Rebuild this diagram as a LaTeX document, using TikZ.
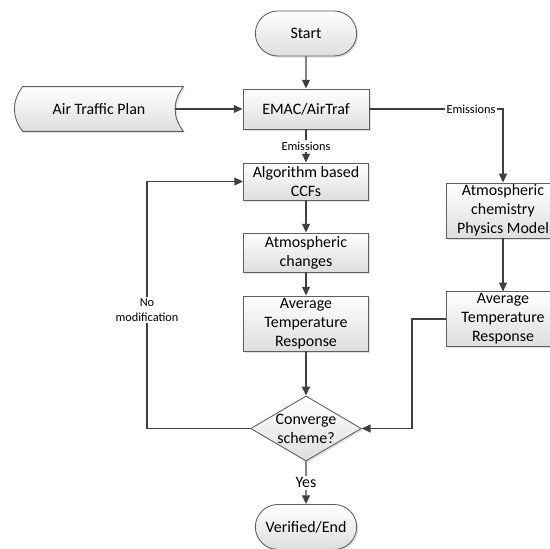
\documentclass[tikz,border=0pt]{standalone}
\usepackage{fontspec}
\setmainfont{Carlito}
\usepackage{tikz}
\usetikzlibrary{shapes,arrows}
\usetikzlibrary{arrows.meta}
\usetikzlibrary{shadows}
\usetikzlibrary{calc}
\usetikzlibrary{backgrounds}
\definecolor{linegray}{HTML}{404040}
\definecolor{boxgray}{HTML}{606060}
\tikzstyle{every node}=[font=\fontsize{9.07}{10.8}\selectfont]
\tikzstyle{shade box}=[draw=boxgray,line width=0.5pt,top color=white,bottom color=black!13,drop shadow={shadow xshift=0.9pt,shadow yshift=-0.9pt,opacity=0.25}]
\tikzstyle{block}=[shade box,rectangle,align=center,inner sep=1pt,minimum width=2.5cm]
\tikzstyle{terminal}=[shade box,rounded rectangle,minimum width=2.26cm,minimum height=0.9cm]
\tikzstyle{decision}=[shade box,diamond,aspect=1.7,inner sep=0pt,align=center]
\tikzstyle{line}=[draw=linegray,line width=0.75pt,-{Triangle[length=5pt,width=4.5pt]}]
\tikzstyle{small label}=[font=\fontsize{7}{8.4}\selectfont,fill=white,inner sep=1pt,align=center]

\begin{document}
\begin{tikzpicture}
\useasboundingbox (0,0) rectangle (11,-10.98);

\node[terminal] (start) at (6.12,-0.67) {Start};
\node[block,minimum width=2.52cm,minimum height=0.8cm] (emac) at (6.12,-2.18) {EMAC/AirTraf};
\node[minimum width=3.36cm,minimum height=0.88cm,inner sep=0pt] (atp) at (1.98,-2.18) {Air Traffic Plan};
\begin{scope}[on background layer]
\draw[shade box] ([xshift=0.16cm]atp.north west) -- (atp.north east)
  .. controls +(-0.22,-0.29) and +(-0.22,0.29) .. (atp.south east)
  -- ([xshift=0.16cm]atp.south west)
  .. controls +(-0.22,0.29) and +(-0.22,-0.29) .. ([xshift=0.16cm]atp.north west) -- cycle;
\end{scope}
\node[block,minimum height=0.74cm] (alg) at (6.12,-3.63) {Algorithm based\\CCFs};
\node[block,minimum height=0.78cm] (atm) at (6.12,-5.05) {Atmospheric\\changes};
\node[block,minimum height=1.1cm] (atr) at (6.12,-6.47) {Average\\Temperature\\Response};
\node[decision] (conv) at (6.12,-8.57) {Converge\\scheme?};
\node[terminal] (vend) at (6.12,-10.54) {Verified/End};
\node[block,minimum width=2.28cm,minimum height=1.1cm] (chem) at (10.06,-4.21) {Atmospheric\\chemistry\\Physics Model};
\node[block,minimum width=2.28cm,minimum height=1.08cm] (atr2) at (10.06,-6.38) {Average\\Temperature\\Response};
\coordinate (lft) at (2.94,-8.57);
\coordinate (rgt) at (8.24,-6.38);

\draw[line] (start) -- (emac);
\draw[line] ([xshift=-0.165cm]atp.east) -- (emac);
\draw[line] (emac) -- node[small label] {Emissions} (alg);
\draw[line] (emac) -| node[small label,pos=0.38] {Emissions} (chem);
\draw[line] (alg) -- (atm);
\draw[line] (atm) -- (atr);
\draw[line] (atr) -- (conv);
\draw[line] (chem) -- (atr2);
\draw[line] (atr2.west) -- (rgt) |- (conv.east);
\draw[line] (conv.west) -- (lft) |- node[small label,pos=0.24] {No\\modification} (alg.west);
\draw[line] (conv) -- node[fill=white,inner sep=1pt] {Yes} (vend);
\end{tikzpicture}
\end{document}
